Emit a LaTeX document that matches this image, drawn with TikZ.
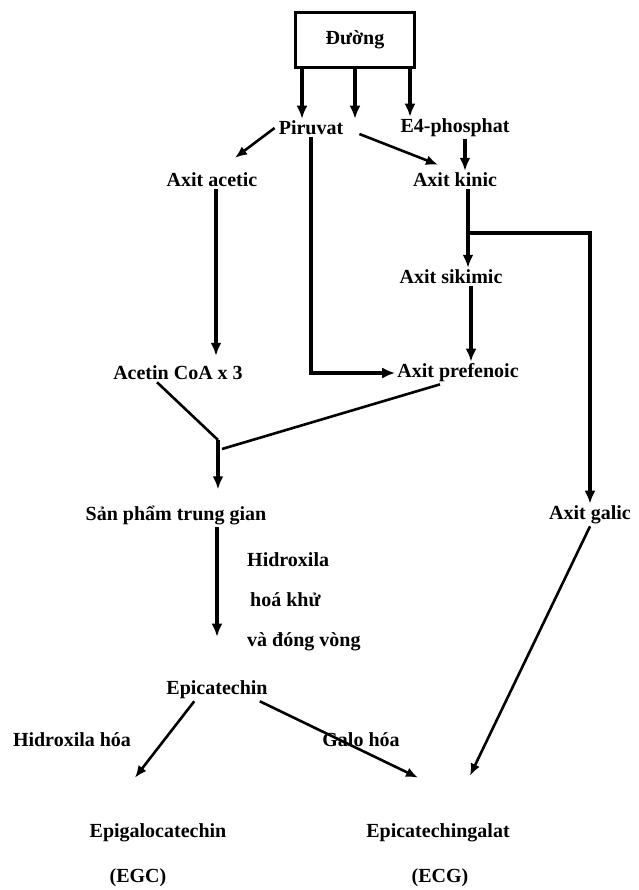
\documentclass[tikz,border=0pt]{standalone}
\usepackage{fontspec}
\setmainfont{Liberation Serif}
\usetikzlibrary{arrows.meta}

\begin{document}
\begin{tikzpicture}[x=1pt, y=-1pt,
    lbl/.style={font=\fontsize{20}{22}\selectfont\bfseries, inner sep=2pt},
    flow/.style={line width=3.4pt, -{Latex[length=13pt,width=11pt]}},
    slant/.style={line width=2.6pt, -{Latex[length=12pt,width=10pt]}},
    link/.style={line width=2.6pt}
]
\useasboundingbox (0,0) rectangle (638,890);

% Source box
\node[lbl, draw, line width=3.2pt, minimum width=119pt, minimum height=55pt] (duong) at (355,40) {Đường};

% First row
\node[lbl] (piruvat) at (311,128) {Piruvat};
\node[lbl] (e4) at (455,128) {E4-phosphat};
\node[lbl] (acetic) at (212,180) {Axit acetic};
\node[lbl] (kinic) at (455,180) {Axit kinic};
\node[lbl] (sikimic) at (451,277) {Axit sikimic};
\node[lbl] (acetin) at (178,373) {Acetin CoA x 3};
\node[lbl] (prefenoic) at (458,373) {Axit prefenoic};

% Middle
\node[lbl] (sanpham) at (176,515) {Sản phẩm trung gian};
\node[lbl] (galic) at (590,515) {Axit galic};
\node[lbl, anchor=west] (step1) at (245,560) {Hidroxila};
\node[lbl, anchor=west] (step2) at (248,600) {hoá khử};
\node[lbl, anchor=west] (step3) at (245,642) {và đóng vòng};
\node[lbl] (epicatechin) at (217,690) {Epicatechin};

% Products
\node[lbl] (hidroxila) at (72,740) {Hidroxila hóa};
\node[lbl] (galo) at (361,740) {Galo hóa};
\node[lbl] (egc) at (158,833) {Epigalocatechin};
\node[lbl] (egcabbr) at (138,878) {(EGC)};
\node[lbl] (ecg) at (438,833) {Epicatechingalat};
\node[lbl] (ecgabbr) at (440,878) {(ECG)};

\coordinate (fork) at (468,233);
\coordinate (join) at (218,440);

% Arrows
\draw[flow] ([xshift=-53pt]duong.south) -- ([xshift=-53pt]duong.south |- piruvat.north);
\draw[flow] (duong.south) -- (duong.south |- piruvat.north);
\draw[flow] ([xshift=55pt]duong.south) -- ([xshift=55pt]duong.south |- e4.north);
\draw[slant] ([xshift=-2pt]piruvat.west) -- ([xshift=23pt,yshift=13pt]acetic.north);
\draw[slant] ([xshift=14pt,yshift=-6pt]piruvat.east) -- ([xshift=-17pt,yshift=6pt]kinic.north);
\draw[flow] ([xshift=10pt]e4.south) -- ([xshift=10pt]e4.south |- kinic.north);
\draw[flow, shorten >=8pt] ([xshift=4pt]acetic.south) -- ([xshift=4pt]acetic.south |- acetin.north);
\draw[flow] (piruvat.south) -- (piruvat.south |- prefenoic.west) -- (prefenoic.west);
\draw[flow] ([xshift=13pt]kinic.south) -- ([xshift=13pt]kinic.south |- sikimic.north);
\draw[flow] (fork) -- (fork -| galic.north) -- (galic.north);
\draw[flow] ([xshift=20pt]sikimic.south) -- ([xshift=20pt]sikimic.south |- prefenoic.north);
\draw[link] ([xshift=-21pt]acetin.south) -- (join);
\draw[link] ([xshift=-18pt]prefenoic.south) -- ([xshift=4pt,yshift=-9pt]join);
\draw[flow, shorten >=14pt] (join) -- (join |- sanpham.north);
\draw[flow, shorten >=42pt] (sanpham.south -| epicatechin.north) -- (epicatechin.north);
\draw[slant] ([xshift=30pt]epicatechin.south west) -- ([xshift=-23pt,yshift=44pt]egc.north);
\draw[slant] ([xshift=-10pt]epicatechin.south east) -- ([xshift=-20pt,yshift=44pt]ecg.north);
\draw[slant] (galic.south) -- ([xshift=32pt,yshift=46pt]ecg.north);
\end{tikzpicture}
\end{document}
